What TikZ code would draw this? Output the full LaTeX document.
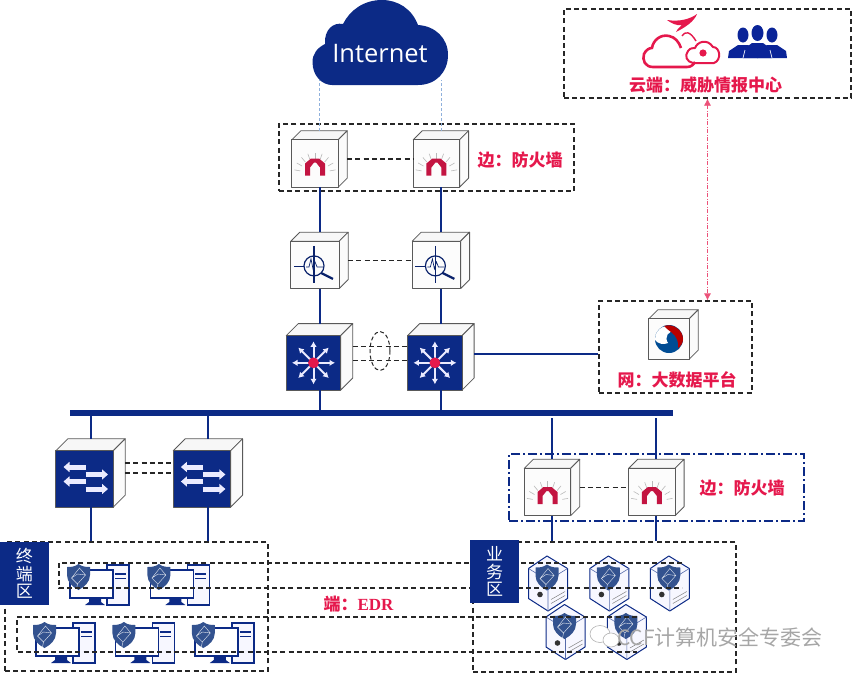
\documentclass[tikz,border=0pt]{standalone}
\usepackage{fontspec}
\newfontfamily\cjk{Noto Sans CJK SC}
\newfontfamily\latinsans{Open Sans}
\newfontfamily\latinserif{Liberation Serif}
\usepackage{tikz}
\usetikzlibrary{positioning, arrows.meta, shapes.geometric, calc}

\definecolor{navy}{HTML}{0C2A86}
\definecolor{crimson}{HTML}{E5184C}
\definecolor{shieldblue}{HTML}{33528F}
\definecolor{uplinkblue}{HTML}{8FB0DC}

% cube faces: node, depth, front fill
\newcommand{\cubefaces}[3]{
    \draw [cubeline, fill=gray!6] ($(#1.north west)+(0,#2)$) -- ($(#1.north west)+(#2,0)$) -- (#1.north east) -- ($(#1.north east)+(-#2,#2)$) -- cycle;
    \draw [cubeline, fill=gray!3] ($(#1.north east)+(-#2,#2)$) -- (#1.north east) -- ($(#1.south east)+(0,-#2)$) -- ($(#1.south east)+(-#2,0)$) -- cycle;
    \draw [cubeline, fill=#3] ($(#1.north west)+(0,#2)$) rectangle ($(#1.south east)+(-#2,0)$);
}
% red arch with grey rays
\newcommand{\fwicon}[1]{
    \cubefaces{#1}{9}{gray!2}
    \begin{scope}[shift={(#1)}, shift={(-4.5,4.5)}]
        \foreach \a in {190,210,...,350}
            \draw [gray!55, line width=0.6pt] ($(0,10)+(\a:15)$) -- ($(0,10)+(\a:21)$);
        \fill [crimson!85!black] (-10,12) -- (-10,0) -- (-4,-5) -- (4,-5) -- (10,0) -- (10,12) -- (5,12) -- (5,4) -- (1,-1) -- (-1,-1) -- (-5,4) -- (-5,12) -- cycle;
    \end{scope}
}
% magnifier over a pulse
\newcommand{\probeicon}[1]{
    \cubefaces{#1}{9}{gray!2}
    \begin{scope}[shift={(#1)}, shift={(-4.5,4.5)}]
        \draw [navy!80!black, line width=1.2pt] (-1,1) circle (10);
        \draw [navy!80!black, line width=1.1pt] (-1,-19) -- (-1,18);
        \draw [navy!80!black, line width=0.8pt] (-21,1) -- (-11,1);
        \draw [navy!80!black, line width=0.7pt] (-9,2) -- (-6,2) -- (-4,-6) -- (-2,4) -- (0,-3) -- (2,2) -- (8,2);
        \draw [navy!80!black, line width=2.2pt] (6,8) -- (18,14);
    \end{scope}
}
% eight arrows round a red dot
\newcommand{\coreicon}[1]{
    \cubefaces{#1}{12}{navy}
    \begin{scope}[shift={(#1)}, shift={(-6,6)}]
        \foreach \a in {0,45,...,315}
            \draw [white!92!blue, line width=2pt, -{Latex[length=5.5pt,width=6.5pt]}] (0,0) -- (\a:21.5);
        \fill [crimson] (0,0) circle (5.4);
    \end{scope}
}
% two pairs of opposite block arrows
\newcommand{\accessicon}[1]{
    \cubefaces{#1}{12}{navy}
    \begin{scope}[shift={(#1)}, shift={(-6,6)}, line width=5pt, white!92!blue, -{Triangle[length=6pt,width=10pt]}]
        \draw (1.5,-12) -- (-21,-12);
        \draw (1,-4.5) -- (23.5,-4.5);
        \draw (1.5,2.5) -- (-21,2.5);
        \draw (1,10) -- (23.5,10);
    \end{scope}
}
\newcommand{\shieldicon}{
    \fill [shieldblue] (0,-13) .. controls (-4,-10) and (-8,-10) .. (-11.5,-10) -- (-11.5,-2) .. controls (-11.5,5) and (-6,10) .. (0,13) .. controls (6,10) and (11.5,5) .. (11.5,-2) -- (11.5,-10) .. controls (8,-10) and (4,-10) .. (0,-13) -- cycle;
    \draw [white!85!shieldblue, line width=0.4pt] (1,-9) -- (-7,1) -- (-1,7) -- (7,-2) -- cycle (-1,7) -- (-2,12) (-7,1) -- (-1,-3) -- (7,-2);
}
\newcommand{\pcicon}[1]{
    \begin{scope}[shift={(#1)}]
        \draw [navy, line width=1.5pt, fill=blue!3] (9,-20) rectangle (31,20);
        \draw [navy, line width=1.3pt] (17,-11) -- (28,-11) (17,-6.5) -- (28,-6.5);
        \fill [navy] (-9,12) -- (3,12) -- (3,17) -- (7,20) -- (-13,20) -- (-9,17) -- cycle;
        \draw [navy, line width=1.6pt, fill=white] (-28,-15) rectangle (15,13);
        \draw [navy, line width=2.2pt] (-28,13) -- (15,13);
        \begin{scope}[shift={(-19.5,-8)}]
            \shieldicon
        \end{scope}
    \end{scope}
}
\newcommand{\servericon}[1]{
    \begin{scope}[shift={(#1)}]
        \draw [navy, line width=1pt, fill=blue!3, line join=round] (-1,-27.5) -- (19.5,-15) -- (19.5,15) -- (0,27.5) -- (-19.5,15) -- (-19.5,-15) -- cycle;
        \draw [navy!70, line width=0.6pt] (-19.5,-15) -- (0,-3) -- (19.5,-15) (0,-3) -- (0,27.5);
        \draw [gray, line width=0.5pt] (3,20) -- (17,12) (3,16) -- (17,8);
        \fill [black!80] (-8,11) circle (2.8);
        \begin{scope}[shift={(-1,-6)}]
            \shieldicon
        \end{scope}
    \end{scope}
}

\begin{document}
\begin{tikzpicture}[x=1pt, y=-1pt, line cap=butt]
    \tikzstyle{cubeline} = [draw=gray!70!black, line width=0.8pt, line join=round]
    \tikzstyle{fwcube} = [rectangle, inner sep=0pt, minimum width=55pt, minimum height=56pt]
    \tikzstyle{probecube} = [rectangle, inner sep=0pt, minimum width=57pt, minimum height=56pt]
    \tikzstyle{corecube} = [rectangle, inner sep=0pt, minimum width=66pt, minimum height=66pt]
    \tikzstyle{accesscube} = [rectangle, inner sep=0pt, minimum width=69pt, minimum height=68pt]
    \tikzstyle{zone} = [rectangle, draw=black!85, line width=1.2pt, dash pattern=on 5pt off 3.2pt, inner sep=0pt]
    \tikzstyle{redlabel} = [font=\cjk\bfseries\fontsize{17}{17}\selectfont, text=crimson, inner sep=0pt]
    \tikzstyle{zonetag} = [rectangle, fill=navy, text=white, inner sep=0pt, minimum width=49pt, minimum height=63pt, align=center, font=\cjk\fontsize{17}{17.5}\selectfont]
    \tikzstyle{trunk} = [navy, line width=2pt]
    \tikzstyle{peer} = [black!85, line width=1.2pt, dash pattern=on 5pt off 3.2pt]
    \tikzstyle{uplink} = [uplinkblue, line width=0.7pt, densely dashed]
    \tikzstyle{hostbox} = [rectangle, inner sep=0pt, minimum width=62pt, minimum height=40pt]
    \tikzstyle{serverbox} = [rectangle, inner sep=0pt, minimum width=39pt, minimum height=55pt]

    \useasboundingbox (0,0) rectangle (852,675);

    % dashed zones
    \node [zone, minimum width=287pt, minimum height=89pt] (cloudzone) at (707.5,53.5) {};
    \node [zone, minimum width=295pt, minimum height=67pt] (edgezone) at (426.5,157.5) {};
    \node [zone, minimum width=153pt, minimum height=92pt] (netzone) at (675.5,347) {};
    \node [rectangle, draw=navy, line width=1.2pt, dash pattern=on 9pt off 3pt on 2pt off 3pt, inner sep=0pt, minimum width=295pt, minimum height=67pt] (dmzzone) at (656.5,487.5) {};
    \node [zone, minimum width=263pt, minimum height=129pt] (hostzone) at (136.5,606.5) {};
    \node [zone, minimum width=263pt, minimum height=130pt] (bizzone) at (604.5,607) {};

    % cloud
    \fill [navy] (332,85) -- (418,85) .. controls (436,85) and (448,72) .. (448,55) .. controls (448,38) and (435,26) .. (418,25) .. controls (412,9) and (398,0) .. (382,0) .. controls (364,0) and (350,10) .. (343,24) .. controls (333,22) and (324,30) .. (325,44) .. controls (317,48) and (312.5,54) .. (312.5,62) .. controls (312.5,76) and (322,85) .. (332,85) -- cycle;
    \node [text=white, inner sep=0pt, minimum width=120pt, minimum height=52pt, font=\latinsans\fontsize{25.5}{26}\selectfont] (inet) at (380,54) {Internet};

    % devices
    \node [fwcube] (fw1) at (319.5,159) {};
    \node [fwcube, right=66pt of fw1] (fw2) {};
    \node [probecube, below=45pt of fw1] (probe1) {};
    \node [probecube, below=45pt of fw2] (probe2) {};
    \node [corecube, below=35pt of probe1] (core1) {};
    \node [corecube, right=55pt of core1] (core2) {};
    \node [rectangle, fill=navy, inner sep=0pt, minimum width=603pt, minimum height=6pt] (bus) at (371.5,413) {};
    \node [accesscube] (acc1) at (90.5,473) {};
    \node [accesscube, right=48pt of acc1] (acc2) {};
    \node [fwcube] (fw3) at (552,487.5) {};
    \node [fwcube, right=49pt of fw3] (fw4) {};
    \node [rectangle, inner sep=0pt, minimum size=49pt] (bigdata) at (673.5,334.5) {};

    \fwicon{fw1} \fwicon{fw2} \fwicon{fw3} \fwicon{fw4}
    \probeicon{probe1} \probeicon{probe2}
    \coreicon{core1} \coreicon{core2}
    \accessicon{acc1} \accessicon{acc2}

    % big data cube
    \cubefaces{bigdata}{9}{gray!2}
    \begin{scope}[shift={(bigdata)}, shift={(-4.5,4.5)}]
        \fill [blue!40!black!70!cyan] (0,0) circle (14);
        \fill [white] (-13.5,-4) .. controls (-9,-15) and (2,-15) .. (7,-9) .. controls (-1,-8) and (-5,-2) .. (-1,4) .. controls (-5,6) and (-11,5) .. (-14,1) -- cycle;
        \fill [red!72!black] (-5,-13) .. controls (4,-16) and (14,-9) .. (14,0) .. controls (14,4) and (12,7) .. (9,9) .. controls (10,4) and (8,-3) .. (2,-7) .. controls (-1,-9) and (-3,-11) .. (-5,-13) -- cycle;
    \end{scope}

    % threat centre logo
    \draw [crimson, line width=2.6pt, line join=round] (653,67) .. controls (645,67) and (642,60) .. (644,54) .. controls (646,50) and (649,48) .. (652,48) .. controls (653,40) and (661,34) .. (669,36) .. controls (675,37) and (679,42) .. (681,48) (653,67) -- (687,67) .. controls (691,67) and (693,65) .. (695,62);
    \draw [crimson, line width=2pt, line join=round] (693,63) .. controls (687,62) and (684,56) .. (688,51) .. controls (690,48) and (693,48) .. (695,48) .. controls (697,42) and (707,38) .. (713,47) .. controls (720,47) and (722,60) .. (714,63) -- cycle;
    \fill [crimson] (703,53) circle (3.6);
    \draw [crimson, line width=1.4pt] (682,36) .. controls (685,31) and (690,31) .. (696,41);
    \fill [crimson] (667,20) .. controls (680,22) and (690,19) .. (697,14) .. controls (694,22) and (684,28) .. (676,32) .. controls (678,28) and (680,27) .. (682,25) .. controls (676,26) and (671,23) .. (667,20) -- cycle;
    \foreach \px in {743,772} {
        \fill [navy!85!blue] (\px,35) ellipse (5.5 and 7.5);
        \fill [navy!85!blue] (\px-15,58) -- (\px-14,51) -- (\px-5,45) -- (\px+5,45) -- (\px+14,51) -- (\px+15,58) -- cycle;
    }
    \fill [navy!85!blue] (757.5,33) ellipse (6 and 8) (743,58) -- (744,49) -- (752,43) -- (763,43) -- (771,49) -- (772,58) -- cycle;
    \draw [white, line width=0.7pt] (743,58) -- (745,50) (772,58) -- (770,50);

    % hosts and servers
    \node [hostbox] (pc1) at (98,585) {};
    \node [hostbox, right=18pt of pc1] (pc2) {};
    \node [hostbox] (pc3) at (64,643) {};
    \node [hostbox, right=17pt of pc3] (pc4) {};
    \node [hostbox, right=17pt of pc4] (pc5) {};
    \node [serverbox] (srv1) at (548,583.5) {};
    \node [serverbox, right=22pt of srv1] (srv2) {};
    \node [serverbox, right=21pt of srv2] (srv3) {};
    \node [serverbox] (srv4) at (565.5,632) {};
    \node [serverbox, right=22pt of srv4] (srv5) {};
    \foreach \n in {pc1,pc2,pc3,pc4,pc5} {\pcicon{\n}}
    \foreach \n in {srv1,srv2,srv3,srv4,srv5} {\servericon{\n}}

    % EDR rails
    \draw [peer] (682,563) -- (59,563) -- (59,588) -- (682,588);
    \draw [peer] (637,617) -- (17,617) -- (17,652) -- (637,652);

    \node [zonetag] (hosttag) at (24.5,573.5) {终\\端\\区};
    \node [zonetag] (biztag) at (494.5,571.5) {业\\务\\区};

    % labels
    \node [redlabel] (cloudlabel) at (705.5,85) {云端：威胁情报中心};
    \node [redlabel] (edgelabel) at (520,160) {边：防火墙};
    \node [redlabel] (netlabel) at (677,380) {网：大数据平台};
    \node [redlabel] (dmzlabel) at (742,488) {边：防火墙};
    \node [redlabel] (edrlabel) at (358.5,604) {端：{\latinserif\bfseries EDR}};

    % watermark
    \fill [white] (600,634) ellipse (10 and 8.5);
    \draw [gray!60, line width=0.6pt] (600,634) ellipse (10 and 8.5);
    \fill [white] (611,640) ellipse (8 and 7);
    \draw [gray!60, line width=0.6pt] (611,640) ellipse (8 and 7);
    \node [anchor=west, inner sep=0pt, text=gray!70, font=\cjk\fontsize{21}{21}\selectfont] (mark) at (617,637) {CCF计算机安全专委会};

    % links
    \draw [uplink] (fw1.north) -- (fw1.north |- inet.south);
    \draw [uplink] (fw2.north) -- (fw2.north |- inet.south);
    \draw [trunk] (fw1) -- (probe1);
    \draw [trunk] (fw2) -- (probe2);
    \draw [trunk] (probe1) -- (core1);
    \draw [trunk] (probe2) -- (core2);
    \draw [trunk] (core1) -- (core1 |- bus.north);
    \draw [trunk] (core2) -- (core2 |- bus.north);
    \draw [trunk] (acc1 |- bus.south) -- (acc1);
    \draw [trunk] (acc2 |- bus.south) -- (acc2);
    \draw [trunk] (acc1) -- (acc1 |- hostzone.north);
    \draw [trunk] (acc2) -- (acc2 |- hostzone.north);
    \draw [trunk, shorten <=2pt] (fw3 |- bus.south) -- (fw3);
    \draw [trunk, shorten <=2pt] (fw4 |- bus.south) -- (fw4);
    \draw [trunk] (fw3) -- (fw3 |- bizzone.north);
    \draw [trunk] (fw4) -- (fw4 |- bizzone.north);
    \draw [trunk] ([yshift=3pt]core2.east) -- ([yshift=3pt]core2.east -| netzone.west);

    \draw [peer] (fw1) -- (fw2);
    \draw [peer] (probe1) -- (probe2);
    \draw [peer] (fw3) -- (fw4);
    \draw [peer] ([yshift=10pt]core1.east) -- ([yshift=10pt]core2.west);
    \draw [peer] ([yshift=-4pt]core1.east) -- ([yshift=-4pt]core2.west);
    \draw [peer] ([yshift=10pt]acc1.east) -- ([yshift=10pt]acc2.west);
    \draw [peer] (acc1) -- (acc2);
    \node [ellipse, draw=black!85, line width=1pt, dash pattern=on 4pt off 2.5pt, inner sep=0pt, minimum width=20pt, minimum height=39pt] (lag) at (380,351) {};

    \draw [crimson!75, line width=0.7pt, dash pattern=on 4pt off 1.5pt on 1pt off 1.5pt, {Latex[length=7pt,width=7pt]}-{Latex[length=7pt,width=7pt]}] (cloudzone.south) -- (cloudzone.south |- netzone.north);
\end{tikzpicture}
\end{document}
